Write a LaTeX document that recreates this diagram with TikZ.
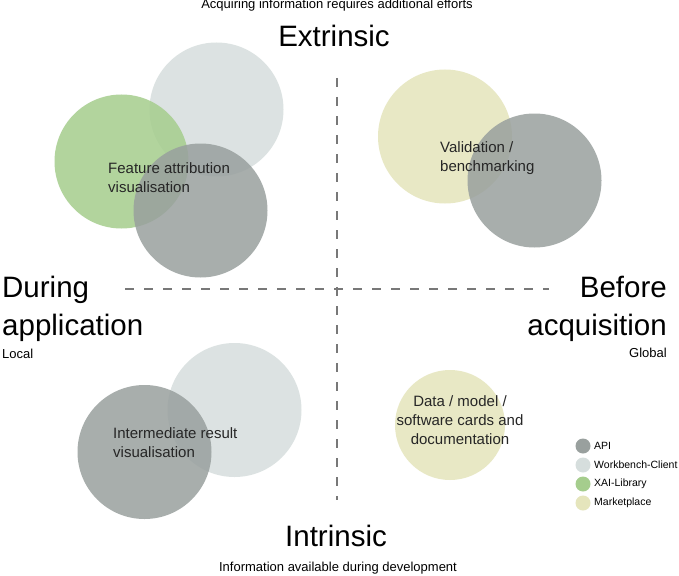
\documentclass[tikz,border=0pt]{standalone}
\usepackage{fontspec}
\setmainfont{Liberation Sans}
\definecolor{apicol}{RGB}{153,160,158}
\definecolor{wbcol}{RGB}{214,222,221}
\definecolor{xaicol}{RGB}{165,205,141}
\definecolor{mkcol}{RGB}{229,229,188}
\definecolor{dashcol}{RGB}{120,120,120}
\tikzset{
  blob/.style={circle, draw=none, inner sep=0pt, minimum size=134pt, fill opacity=0.85},
  lbl/.style={font=\fontsize{15}{19}\selectfont, inner sep=0pt, text=black!85},
  big/.style={font=\fontsize{29.5}{36}\selectfont, inner sep=0pt},
  smallcap/.style={font=\fontsize{13}{16}\selectfont, inner sep=0pt},
  axis/.style={dashcol, line width=1.8pt, dash pattern=on 9pt off 10pt},
  lgdot/.style={circle, draw=none, inner sep=0pt, minimum size=15pt},
  lgtxt/.style={font=\fontsize{10.5}{12}\selectfont, inner sep=0pt, anchor=west}
}
\begin{document}
\begin{tikzpicture}[x=1pt,y=-1pt]
\useasboundingbox[fill=white] (0,0) rectangle (679,575);
% axes
\coordinate (vtop) at (337,78);
\coordinate (vbot) at (337,500);
\coordinate (hl) at (125,289);
\coordinate (hr) at (549,289);
\draw[axis] (vtop) -- (vbot);
\draw[axis] (hl) -- (hr);
% top-left group
\node[blob, fill=wbcol] (tlwb) at (216.5,109.5) {};
\node[blob, fill=xaicol] (tlxai) at (121.5,161.5) {};
\node[blob, fill=apicol] (tlapi) at (200.5,210.5) {};
\node[lbl, anchor=base west, align=left] (tltxt) at (108,192) {Feature attribution\\visualisation};
% top-right group
\node[blob, fill=mkcol] (trmk) at (445,136.5) {};
\node[blob, fill=apicol] (trapi) at (534.5,180.5) {};
\node[lbl, anchor=base west, align=left] (trtxt) at (440,171) {Validation /\\benchmarking};
% bottom-left group
\node[blob, fill=wbcol] (blwb) at (234.5,410) {};
\node[blob, fill=apicol] (blapi) at (144.5,452) {};
\node[lbl, anchor=base west, align=left] (bltxt) at (113,457) {Intermediate result\\visualisation};
% bottom-right
\node[blob, fill=mkcol, minimum size=110pt] (brmk) at (450,425) {};
\node[lbl, anchor=base, align=center] (brtxt) at (460,444) {Data / model /\\software cards and\\documentation};
% axis labels
\node[smallcap, anchor=base] (topcap) at (337,9) {Acquiring information requires additional efforts};
\node[big, anchor=base] (extr) at (334,47) {Extrinsic};
\node[big, anchor=base] (intr) at (336,546) {Intrinsic};
\node[smallcap, anchor=base] (botcap) at (338,571) {Information available during development};
\node[big, anchor=base west] (during) at (2,297) {During};
\node[big, anchor=base west] (appl) at (2,335) {application};
\node[smallcap, anchor=base west] (local) at (2,358) {Local};
\node[big, anchor=base east] (before) at (667,297) {Before};
\node[big, anchor=base east] (acq) at (667,335) {acquisition};
\node[smallcap, anchor=base east] (global) at (667,357) {Global};
% legend
\node[lgdot, fill=apicol] (l1) at (583,446) {};
\node[lgdot, fill=wbcol] (l2) at (583,465) {};
\node[lgdot, fill=xaicol] (l3) at (583,484) {};
\node[lgdot, fill=mkcol] (l4) at (583,503) {};
\node[lgtxt] (lt1) at (594,446) {API};
\node[lgtxt] (lt2) at (594,465) {Workbench-Client};
\node[lgtxt] (lt3) at (594,484) {XAI-Library};
\node[lgtxt] (lt4) at (594,503) {Marketplace};
\end{tikzpicture}
\end{document}
